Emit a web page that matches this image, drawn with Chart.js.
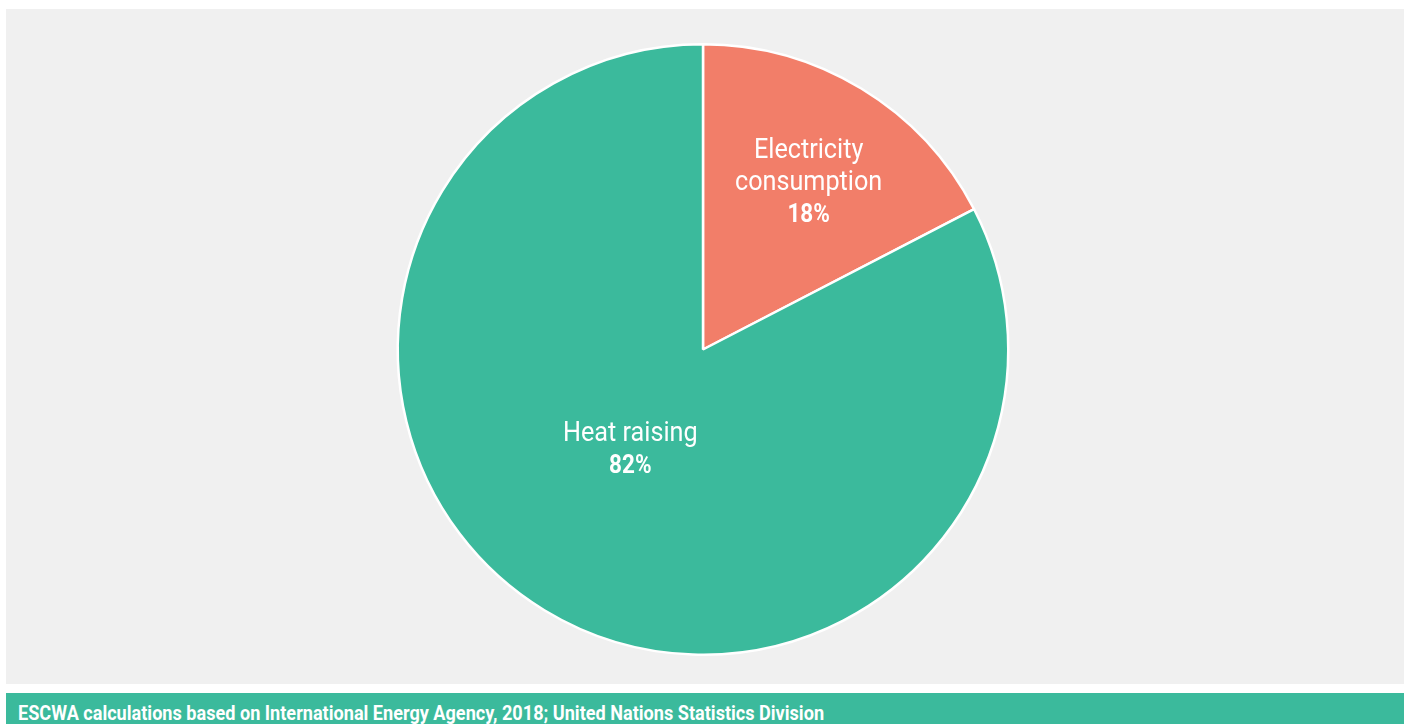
<!DOCTYPE html>
<html>
<head>
<meta charset="utf-8">
<script src="https://cdn.jsdelivr.net/npm/chart.js@4"></script>
<style>
  html, body { margin: 0; padding: 0; background: #ffffff; width: 1408px; height: 724px; overflow: hidden; }
  #panel { position: absolute; left: 6px; top: 9px; width: 1398px; height: 675px; background: #f0f0f0; }
  #footer { position: absolute; left: 6px; top: 693px; width: 1398px; height: 31px; background: #3bba9c; overflow: hidden; }
  #footer span { position: absolute; left: 12px; top: 10px; color: #fff; font-family: Roboto, "Liberation Sans", sans-serif; font-weight: bold; font-size: 20px; line-height: 20px; white-space: nowrap; transform: scaleX(0.905); transform-origin: left top; }
</style>
</head>
<body>
<div id="panel"><canvas id="c"></canvas></div>
<div id="footer"><span id="src"></span></div>
<script>
const categories = ["Electricity consumption", "Heat raising"];
const labelLines = [["Electricity", "consumption"], ["Heat raising"]];
const pctLabels = ["18%", "82%"];
const values = [17.4, 82.6];
const colors = ["#f27e69", "#3bba9c"];
const sourceText = "ESCWA calculations based on International Energy Agency, 2018; United Nations Statistics Division";

document.getElementById('src').textContent = sourceText;

// label placement per slice: [angle in degrees (0 = right, clockwise), distance as fraction of radius]
const labelPlace = [[-56.5, 0.627], [124, 0.426]];

const labelPlugin = {
  id: 'sliceLabels',
  afterDatasetsDraw(chart) {
    const ctx = chart.ctx;
    const meta = chart.getDatasetMeta(0);
    meta.data.forEach((arc, i) => {
      const r = arc.outerRadius;
      const a = labelPlace[i][0] * Math.PI / 180;
      const d = labelPlace[i][1] * r;
      const cx = arc.x + Math.cos(a) * d;
      const cy = arc.y + Math.sin(a) * d;
      const lines = labelLines[i].map(t => ({ t, bold: false }));
      lines.push({ t: pctLabels[i], bold: true });
      const lh = 32;
      const startY = cy - (lines.length - 1) * lh / 2;
      lines.forEach((ln, k) => {
        ctx.save();
        ctx.translate(cx, startY + k * lh);
        ctx.scale(0.9, 1);
        ctx.font = (ln.bold ? 'bold 25px' : '400 28px') + ' Roboto, "Liberation Sans", sans-serif';
        ctx.fillStyle = '#ffffff';
        ctx.textAlign = 'center';
        ctx.textBaseline = 'alphabetic';
        ctx.fillText(ln.t, 0, 0);
        ctx.restore();
      });
    });
  }
};

new Chart(document.getElementById('c'), {
  type: 'pie',
  data: {
    labels: categories,
    datasets: [{
      data: values,
      backgroundColor: colors,
      borderColor: '#ffffff',
      borderWidth: 2.5
    }]
  },
  options: {
    responsive: true,
    maintainAspectRatio: false,
    animation: false,
    layout: { padding: { top: 34, bottom: 28, left: 0, right: 4 } },
    plugins: {
      legend: { display: false },
      tooltip: { enabled: false }
    }
  },
  plugins: [labelPlugin]
});
</script>
</body>
</html>
